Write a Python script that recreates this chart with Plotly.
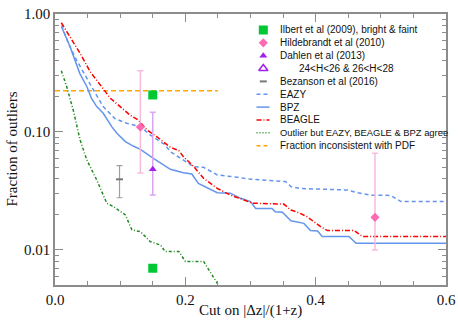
import plotly.graph_objects as go

# curves: fraction of outliers vs cut on |dz|/(1+z)
bpz_x = [0.010, 0.023, 0.038, 0.049, 0.056, 0.064, 0.074, 0.087, 0.095, 0.108, 0.120, 0.131, 0.151, 0.177,
         0.197, 0.210, 0.220, 0.236, 0.249, 0.269, 0.285, 0.300, 0.308, 0.333, 0.338, 0.349, 0.362, 0.382,
         0.392, 0.403, 0.410, 0.451, 0.462, 0.600]
bpz_y = [0.78, 0.53, 0.314, 0.242, 0.193, 0.164, 0.144, 0.111, 0.0975, 0.0828, 0.076, 0.0713, 0.0598, 0.0483,
         0.0452, 0.044, 0.0367, 0.0333, 0.0306, 0.0303, 0.0274, 0.0257, 0.0225, 0.0225, 0.0211, 0.0209, 0.0177,
         0.0168, 0.0146, 0.0145, 0.013, 0.013, 0.0114, 0.0114]

eazy_x = [0.010, 0.0205, 0.033, 0.044, 0.059, 0.074, 0.092, 0.110, 0.131, 0.146, 0.169, 0.177, 0.197, 0.213,
          0.228, 0.249, 0.280, 0.300, 0.320, 0.354, 0.362, 0.377, 0.449, 0.464, 0.485, 0.515, 0.531, 0.600]
eazy_y = [0.80, 0.565, 0.407, 0.314, 0.227, 0.164, 0.130, 0.1185, 0.111, 0.0944, 0.0777, 0.068, 0.058, 0.0508,
          0.0502, 0.0432, 0.0413, 0.0398, 0.0392, 0.038, 0.0344, 0.0332, 0.0322, 0.0306, 0.0291, 0.029, 0.0257,
          0.0257]

beagle_x = [0.0097, 0.023, 0.0385, 0.054, 0.069, 0.085, 0.100, 0.115, 0.128, 0.141, 0.156, 0.172, 0.177, 0.190,
            0.197, 0.213, 0.228, 0.249, 0.269, 0.290, 0.303, 0.351, 0.362, 0.374, 0.387, 0.408, 0.418, 0.459,
            0.472, 0.600]
beagle_y = [0.843, 0.643, 0.465, 0.324, 0.25, 0.193, 0.164, 0.139, 0.126, 0.104, 0.0913, 0.0777, 0.0742, 0.0695,
            0.0618, 0.0508, 0.0405, 0.0333, 0.0292, 0.0265, 0.0249, 0.0245, 0.0218, 0.0207, 0.0191, 0.0157,
            0.0146, 0.0146, 0.013, 0.013]

agree_x = [0.0097, 0.018, 0.028, 0.0385, 0.0488, 0.064, 0.0795, 0.0897, 0.108, 0.118, 0.131, 0.146, 0.162,
           0.169, 0.190, 0.200, 0.228, 0.252]
agree_y = [0.331, 0.242, 0.153, 0.0855, 0.058, 0.0392, 0.0249, 0.0233, 0.0198, 0.0148, 0.0143, 0.0118, 0.0110,
           0.0097, 0.0097, 0.0080, 0.0080, 0.0049]

pdf_x = [0.0, 0.25]
pdf_y = [0.224, 0.224]

# literature points
ilbert_x = [0.15, 0.15]
ilbert_y = [0.206, 0.0070]
hild_x = [0.131, 0.491]
hild_y = [0.110, 0.0189]
hild_hi = [0.33, 0.066]
hild_lo = [0.045, 0.010]
dahlen_x = [0.150]
dahlen_y = [0.0483]
dahlen_hi = [0.147]
dahlen_lo = [0.0292]
bez_x = [0.099]
bez_y = [0.0397]
bez_hi = [0.0519]
bez_lo = [0.0277]

BLUE = '#6495ed'
SERIF = 'Liberation Serif'
SANS = 'Liberation Sans'
INK = '#111111'

fig = go.Figure()

def line(x, y, color, dash):
    fig.add_trace(go.Scatter(x=x, y=y, mode='lines', line=dict(color=color, width=1.5, dash=dash),
                             showlegend=False, hoverinfo='skip'))

line(pdf_x, pdf_y, '#ffa500', '5px,3px')
line(eazy_x, eazy_y, BLUE, '4px,3px')
line(bpz_x, bpz_y, BLUE, 'solid')
line(beagle_x, beagle_y, '#ff0000', '5px,2px,1px,2px')
line(agree_x, agree_y, '#228b22', '3px,2px,1px,2px')

def errs(y, hi, lo):
    return [h - v for h, v in zip(hi, y)], [v - l for v, l in zip(y, lo)]

up, dn = errs(bez_y, bez_hi, bez_lo)
fig.add_trace(go.Scatter(x=bez_x, y=bez_y, mode='markers',
                         marker=dict(symbol='line-ew', size=5, line=dict(color='#777777', width=2)),
                         error_y=dict(type='data', array=up, arrayminus=dn, color='#a0a0a0', thickness=1.2, width=3),
                         showlegend=False))
up, dn = errs(hild_y, hild_hi, hild_lo)
fig.add_trace(go.Scatter(x=hild_x, y=hild_y, mode='markers',
                         marker=dict(symbol='diamond', size=7, color='#ff69b4'),
                         error_y=dict(type='data', array=up, arrayminus=dn, color='#f7bcdc', thickness=1.5, width=3),
                         showlegend=False))
up, dn = errs(dahlen_y, dahlen_hi, dahlen_lo)
fig.add_trace(go.Scatter(x=dahlen_x, y=dahlen_y, mode='markers',
                         marker=dict(symbol='triangle-up', size=7, color='#a020f0'),
                         error_y=dict(type='data', array=up, arrayminus=dn, color='#d9a6f2', thickness=1.5, width=3),
                         showlegend=False))
fig.add_trace(go.Scatter(x=ilbert_x, y=ilbert_y, mode='markers',
                         marker=dict(symbol='square', size=9, color='#00c832'),
                         showlegend=False))

# hand-drawn legend (paper coords of the plot area)
legend_rows = [
    ('Ilbert et al (2009), bright & faint', 'marker', dict(symbol='square', size=9, color='#00c832')),
    ('Hildebrandt et al (2010)', 'marker', dict(symbol='diamond', size=7, color='#ff69b4')),
    ('Dahlen et al (2013)', 'marker', dict(symbol='triangle-up', size=7, color='#a020f0')),
    ('24<H<26 & 26<H<28', 'marker', dict(symbol='triangle-up-open', size=8, color='#a020f0',
                                         line=dict(width=1.5, color='#a020f0'))),
    ('Bezanson et al (2016)', 'marker', dict(symbol='line-ew', size=5, line=dict(color='#777777', width=2))),
    ('EAZY', 'line', (BLUE, '4px,3px')),
    ('BPZ', 'line', (BLUE, 'solid')),
    ('BEAGLE', 'line', ('#ff0000', '5px,2px,1px,2px')),
    ('Outlier but EAZY, BEAGLE & BPZ agree', 'line', ('#228b22', '1px,2px')),
    ('Fraction inconsistent with PDF', 'line', ('#ffa500', '4px,3px')),
]

# page pixel positions -> plot-area paper coords
x0, x1 = 55, 446
y0, y1 = 285, 14
def px(p):
    return (p - x0) / (x1 - x0)
def py(p):
    return (y0 - p) / (y0 - y1)

annotations = []
for i, (label, kind, style) in enumerate(legend_rows):
    yy = py(30 + i * 12.85)
    if kind == 'marker':
        fig.add_trace(go.Scatter(x=[px(263.3)], y=[yy], xaxis='x2', yaxis='y2', mode='markers',
                                 marker=style, showlegend=False, cliponaxis=False, hoverinfo='skip'))
    else:
        fig.add_trace(go.Scatter(x=[px(256.5), px(269.5)], y=[yy, yy], xaxis='x2', yaxis='y2', mode='lines',
                                 line=dict(color=style[0], width=1.5, dash=style[1]),
                                 showlegend=False, cliponaxis=False, hoverinfo='skip'))
    tx = 296.5 if label.startswith('24') else 277.5
    fs = 9.4 if label.startswith('Outlier') else 10
    annotations.append(dict(x=px(tx), y=yy, xref='paper', yref='paper', text=label,
                            showarrow=False, xanchor='left', yanchor='middle',
                            font=dict(family=SANS, size=fs, color=INK)))

# axis titles
annotations.append(dict(x=0.5, y=py(310), xref='paper', yref='paper', text='Cut on |Δz|/(1+z)',
                        showarrow=False, xanchor='center', yanchor='middle',
                        font=dict(family=SERIF, size=15, color=INK)))
annotations.append(dict(x=px(11), y=0.5, xref='paper', yref='paper', text='Fraction of outliers', textangle=-90,
                        showarrow=False, xanchor='center', yanchor='middle',
                        font=dict(family=SERIF, size=15, color=INK)))

axis_common = dict(showline=True, linecolor='#8c8c8c', linewidth=1.5, mirror='ticks', ticks='inside',
                   tickcolor='#8c8c8c', tickwidth=1, ticklen=8, showgrid=False, zeroline=False,
                   automargin=False, tickfont=dict(family=SERIF, size=15, color=INK))

fig.update_layout(
    width=458, height=322,
    margin=dict(l=55, r=12, t=14, b=37),
    paper_bgcolor='white', plot_bgcolor='white',
    showlegend=False,
    annotations=annotations,
    xaxis=dict(range=[0, 0.6], tickvals=[0, 0.2, 0.4, 0.6], ticktext=['0.0', '0.2', '0.4', '0.6'],
               minor=dict(tickvals=[0.05, 0.1, 0.15, 0.25, 0.3, 0.35, 0.45, 0.5, 0.55], ticklen=4,
                          tickcolor='#8c8c8c', ticks='inside'),
               **axis_common),
    yaxis=dict(type='log', range=[-2.297, 0.0], tickvals=[0.01, 0.1, 1], ticktext=['0.01', '0.10', '1.00'],
               minor=dict(tickvals=[0.006, 0.007, 0.008, 0.009, 0.02, 0.03, 0.04, 0.05, 0.06, 0.07, 0.08, 0.09,
                                    0.2, 0.3, 0.4, 0.5, 0.6, 0.7, 0.8, 0.9], ticklen=4,
                          tickcolor='#8c8c8c', ticks='inside'),
               **axis_common),
    xaxis2=dict(range=[0, 1], overlaying='x', visible=False),
    yaxis2=dict(range=[0, 1], overlaying='y', visible=False),
)

# no page margin, so the figure sits at the window's top-left corner
fig.write_html("out.html", config={'displayModeBar': False},
               post_script="document.body.style.margin='0';document.body.style.overflow='hidden';")
